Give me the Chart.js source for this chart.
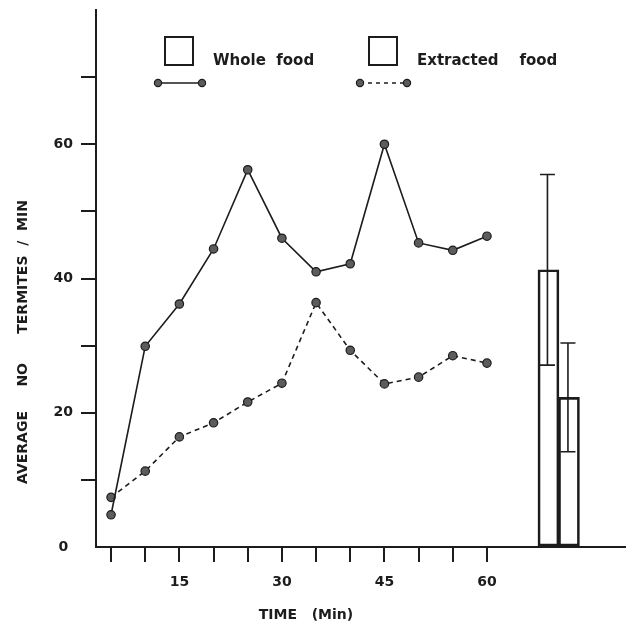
<!DOCTYPE html>
<html>
<head>
<meta charset="utf-8">
<title>Termites per minute</title>
<script src="https://cdn.jsdelivr.net/npm/chart.js@4.4.1/dist/chart.umd.min.js"></script>
<style>
  html, body { margin: 0; padding: 0; background: #fff; }
  canvas { display: block; }
</style>
</head>
<body>
<canvas id="myChart" width="626" height="624"></canvas>
<script>
// counts every 5 minutes
const times = [5, 10, 15, 20, 25, 30, 35, 40, 45, 50, 55, 60];
const wholeFood = [4.8, 29.9, 36.2, 44.4, 56.2, 46.0, 41.0, 42.2, 60.0, 45.3, 44.2, 46.3];
const extractedFood = [7.4, 11.3, 16.4, 18.5, 21.6, 24.4, 36.4, 29.3, 24.3, 25.3, 28.5, 27.4];

// overall means (+/- spread), the two bars at the right
const barPositions = [69, 72];
const barMeans = [41.3, 22.3];
const barErrors = [14.2, 8.1];

const xTicks = [5, 10, 15, 20, 25, 30, 35, 40, 45, 50, 55, 60];
const xTickLabels = [15, 30, 45, 60];
const yTicks = [0, 10, 20, 30, 40, 50, 60, 70];
const yTickLabels = [0, 20, 40, 60];

const ink = '#1c1c1c';
const fontFamily = '"DejaVu Sans", sans-serif';
Chart.defaults.font.family = fontFamily;

const toPoints = (vals, xs) => vals.map((v, i) => ({ x: xs[i], y: v }));

const data = {
  datasets: [
    {
      type: 'line',
      label: 'Whole food',
      data: toPoints(wholeFood, times),
      borderColor: ink,
      borderWidth: 1.6,
      pointRadius: 4.2,
      pointBackgroundColor: '#5c5c5c',
      pointBorderColor: ink,
      pointBorderWidth: 1.2,
      tension: 0
    },
    {
      type: 'line',
      label: 'Extracted food',
      data: toPoints(extractedFood, times),
      borderColor: ink,
      borderWidth: 1.6,
      borderDash: [5, 4],
      pointRadius: 4.2,
      pointBackgroundColor: '#5c5c5c',
      pointBorderColor: ink,
      pointBorderWidth: 1.2,
      tension: 0
    },
    {
      type: 'bar',
      label: 'Mean',
      data: toPoints(barMeans, barPositions),
      backgroundColor: 'rgba(255,255,255,0)',
      borderColor: ink,
      borderWidth: 2,
      borderSkipped: false,
      barThickness: 21
    }
  ]
};

// keep the plot box where the layout padding puts it
function fixScale(scale, size) {
  if (scale.isHorizontal()) scale.height = size;
  else scale.width = size;
  scale.paddingTop = 0;
  scale.paddingBottom = 0;
  scale.paddingLeft = 0;
  scale.paddingRight = 0;
}

// vertical error lines with caps on top of the bars
const errorBars = {
  id: 'errorBars',
  afterDatasetsDraw(chart) {
    const ctx = chart.ctx;
    const yScale = chart.scales.y;
    const bars = chart.getDatasetMeta(2).data;
    ctx.save();
    ctx.strokeStyle = ink;
    ctx.lineWidth = 1.6;
    bars.forEach((bar, i) => {
      const x = bar.x - 1;
      const top = yScale.getPixelForValue(barMeans[i] + barErrors[i]);
      const bottom = yScale.getPixelForValue(barMeans[i] - barErrors[i]);
      ctx.beginPath();
      ctx.moveTo(x, top);
      ctx.lineTo(x, bottom);
      ctx.moveTo(x - 7.5, top);
      ctx.lineTo(x + 7.5, top);
      ctx.moveTo(x - 7.5, bottom);
      ctx.lineTo(x + 7.5, bottom);
      ctx.stroke();
    });
    ctx.restore();
  }
};

// key at the top and the two axis titles
const annotations = {
  id: 'annotations',
  afterDraw(chart) {
    const ctx = chart.ctx;
    ctx.save();
    ctx.fillStyle = ink;
    ctx.strokeStyle = ink;

    const drawKey = (boxX, textX, label, x1, x2, dash) => {
      ctx.lineWidth = 2;
      ctx.setLineDash([]);
      ctx.strokeRect(boxX, 37, 28, 28);
      ctx.font = 'bold 15px ' + fontFamily;
      ctx.textAlign = 'left';
      ctx.textBaseline = 'alphabetic';
      ctx.fillText(label, textX, 65);
      ctx.lineWidth = 1.6;
      ctx.setLineDash(dash);
      ctx.beginPath();
      ctx.moveTo(x1, 83);
      ctx.lineTo(x2, 83);
      ctx.stroke();
      ctx.setLineDash([]);
      [x1, x2].forEach(px => {
        ctx.beginPath();
        ctx.arc(px, 83, 3.6, 0, Math.PI * 2);
        ctx.fillStyle = '#5c5c5c';
        ctx.fill();
        ctx.lineWidth = 1.2;
        ctx.stroke();
        ctx.fillStyle = ink;
      });
    };
    drawKey(165, 213, 'Whole  food', 158, 202, []);
    drawKey(369, 417, 'Extracted    food', 360, 407, [4, 4]);

    ctx.font = 'bold 14px ' + fontFamily;
    ctx.textAlign = 'center';
    ctx.textBaseline = 'alphabetic';
    ctx.fillText('TIME   (Min)', 306, 619);

    ctx.translate(27, 342);
    ctx.rotate(-Math.PI / 2);
    ctx.fillText('AVERAGE     NO      TERMITES  /  MIN', 0, 0);
    ctx.restore();
  }
};

const config = {
  type: 'line',
  data,
  options: {
    responsive: false,
    animation: false,
    layout: {
      autoPadding: false,
      padding: { top: 10, right: 1, left: 0, bottom: 0 }
    },
    plugins: {
      legend: { display: false },
      tooltip: { enabled: false }
    },
    scales: {
      x: {
        type: 'linear',
        min: 2.8,
        max: 80.2,
        offset: false,
        afterBuildTicks: scale => { scale.ticks = xTicks.map(v => ({ value: v })); },
        afterFit: scale => fixScale(scale, 77),
        border: { color: ink, width: 2 },
        grid: { drawOnChartArea: false, offset: false, tickLength: 15, color: ink, lineWidth: 2 },
        ticks: {
          autoSkip: false,
          maxRotation: 0,
          padding: 12,
          color: ink,
          font: { size: 14, weight: 'bold' },
          callback: v => xTickLabels.includes(v) ? String(v) : ''
        }
      },
      y: {
        type: 'linear',
        min: 0,
        max: 80,
        afterBuildTicks: scale => { scale.ticks = yTicks.map(v => ({ value: v })); },
        afterFit: scale => fixScale(scale, 96),
        border: { color: ink, width: 2 },
        grid: {
          drawOnChartArea: false,
          tickLength: 15,
          lineWidth: 2,
          color: c => (c.tick && c.tick.value === 0) ? 'rgba(0,0,0,0)' : ink
        },
        ticks: {
          autoSkip: false,
          padding: 8,
          crossAlign: 'center',
          color: ink,
          font: { size: 14, weight: 'bold' },
          callback: v => yTickLabels.includes(v) ? String(v) : ''
        }
      }
    }
  },
  plugins: [errorBars, annotations]
};

const myChart = new Chart(document.getElementById('myChart'), config);
</script>
</body>
</html>
